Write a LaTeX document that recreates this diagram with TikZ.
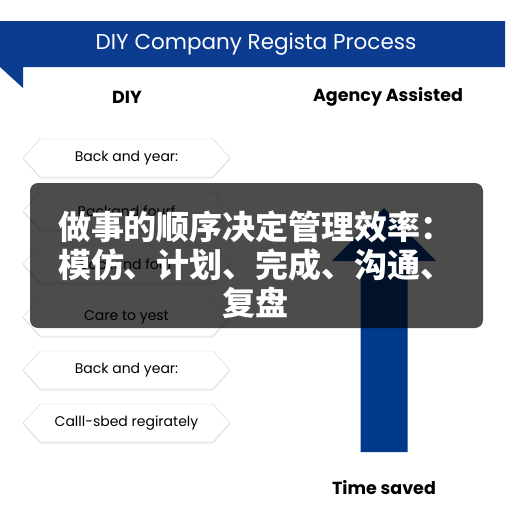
\documentclass[tikz,border=0pt]{standalone}
\usepackage{fontspec}
\setmainfont{Poppins}
\newfontfamily\cjk{Noto Sans CJK SC}
\usetikzlibrary{shapes.symbols,shadows}
\definecolor{bannerblue}{HTML}{0B3C8F}
\definecolor{arrowblue}{HTML}{023A8B}
\begin{document}
\begin{tikzpicture}[x=1pt,y=-1pt]
\tikzstyle{hexbox}=[signal,signal to=east and west,signal pointer angle=96,draw=black!18,fill=white,minimum width=207pt,minimum height=38pt,inner sep=0pt,font=\fontsize{14}{16}\selectfont,drop shadow={opacity=.15,shadow xshift=0pt,shadow yshift=-1.5pt}]
\tikzstyle{head}=[font=\bfseries\fontsize{17.5}{20}\selectfont]
\useasboundingbox(0,0)rectangle(512,512);
\fill[white](0,0)rectangle(512,512);
% banner
\fill[bannerblue](0,21)rectangle(505,67)(0,67)--(23,67)--(23,88)--cycle;
\node[white,font=\fontsize{21.5}{24}\selectfont](title)at(256,44){DIY Company Regista Process};
\node[head](diy)at(127,97){DIY};
\node[head](agency)at(388,97){Agency Assisted};
% steps
\foreach \t[count=\i] in {Back and year:,Backand fourf,Backand four,Care to yest,Back and year:,Calll-sbed regirately}
  \node[hexbox](hex\i)at(126.5,105+53*\i){\t};
% arrow
\fill[arrowblue](360.5,452)--(360.5,261)--(332,261)--(384,208)--(436,261)--(407.5,261)--(407.5,452)--cycle;
\node[head](saved)at(384,488){Time saved};
% overlay
\fill[black,opacity=.7,rounded corners=8pt](30,183)rectangle(483,328);
\node[white,font=\cjk\bfseries\fontsize{33}{38}\selectfont,align=center](note)at(256,265){做事的顺序决定管理效率：\\模仿、计划、完成、沟通、\\复盘};
\end{tikzpicture}
\end{document}
